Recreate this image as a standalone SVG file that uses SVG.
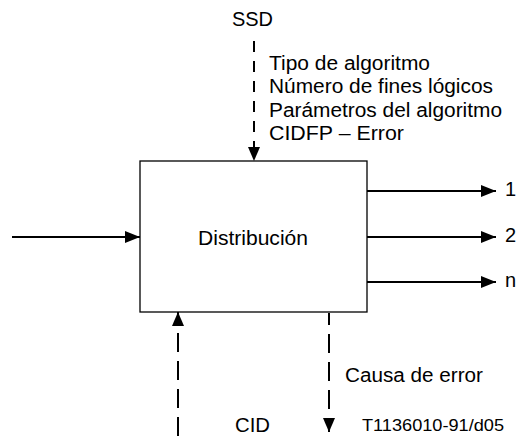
<svg xmlns="http://www.w3.org/2000/svg" width="523" height="436" viewBox="0 0 523 436">
<style>
text{font-family:"Liberation Sans",Arial,sans-serif;fill:#000}
.t{font-size:20px}
.s{font-size:16px}
.ln{stroke:#000;stroke-width:2;fill:none}
.d1{stroke-dasharray:11 9}
.d2{stroke-dasharray:19 9}
</style>
<defs>
<marker id="ah" markerWidth="15" markerHeight="12" refX="15" refY="6" orient="auto" markerUnits="userSpaceOnUse">
<path d="M0,0 L15,6 L0,12 Z" fill="#000"/>
</marker>
<marker id="av" markerWidth="14" markerHeight="12" refX="14" refY="6" orient="auto" markerUnits="userSpaceOnUse">
<path d="M0,0 L14,6 L0,12 Z" fill="#000"/>
</marker>
</defs>
<rect width="523" height="436" fill="#fff"/>
<g id="distribucion">
<rect x="140" y="161" width="227" height="151" fill="#fff" stroke="#000" stroke-width="1.3"/>
<text class="t" x="198" y="245" textLength="110" lengthAdjust="spacingAndGlyphs">Distribución</text>
</g>
<g id="connectors">
<line class="ln d1" x1="254" y1="41" x2="254" y2="161" marker-end="url(#av)"/>
<line class="ln" x1="12" y1="237" x2="140" y2="237" marker-end="url(#ah)"/>
<line class="ln" x1="367" y1="191" x2="496" y2="191" marker-end="url(#ah)"/>
<line class="ln" x1="367" y1="237" x2="496" y2="237" marker-end="url(#ah)"/>
<line class="ln" x1="367" y1="282" x2="496" y2="282" marker-end="url(#ah)"/>
<line class="ln d2" x1="178" y1="436" x2="178" y2="312" marker-end="url(#av)"/>
<line class="ln d2" x1="329" y1="313" x2="329" y2="432" stroke-dashoffset="7" marker-end="url(#av)"/>
</g>
<g id="labels">
<text class="t" x="232" y="26" textLength="41" lengthAdjust="spacingAndGlyphs">SSD</text>
<text class="t" x="269" y="70" textLength="161" lengthAdjust="spacingAndGlyphs">Tipo de algoritmo</text>
<text class="t" x="269" y="93" textLength="224" lengthAdjust="spacingAndGlyphs">Número de fines lógicos</text>
<text class="t" x="269" y="116.5" textLength="233" lengthAdjust="spacingAndGlyphs">Parámetros del algoritmo</text>
<text class="t" x="269" y="140" textLength="135" lengthAdjust="spacingAndGlyphs">CIDFP – Error</text>
<text class="t" x="505" y="196">1</text>
<text class="t" x="505" y="242">2</text>
<text class="t" x="505" y="287">n</text>
<text class="t" x="345" y="382" textLength="138" lengthAdjust="spacingAndGlyphs">Causa de error</text>
<text class="t" x="235" y="432" textLength="35" lengthAdjust="spacingAndGlyphs">CID</text>
<text class="s" x="362" y="431" textLength="142" lengthAdjust="spacingAndGlyphs">T1136010-91/d05</text>
</g>
</svg>
